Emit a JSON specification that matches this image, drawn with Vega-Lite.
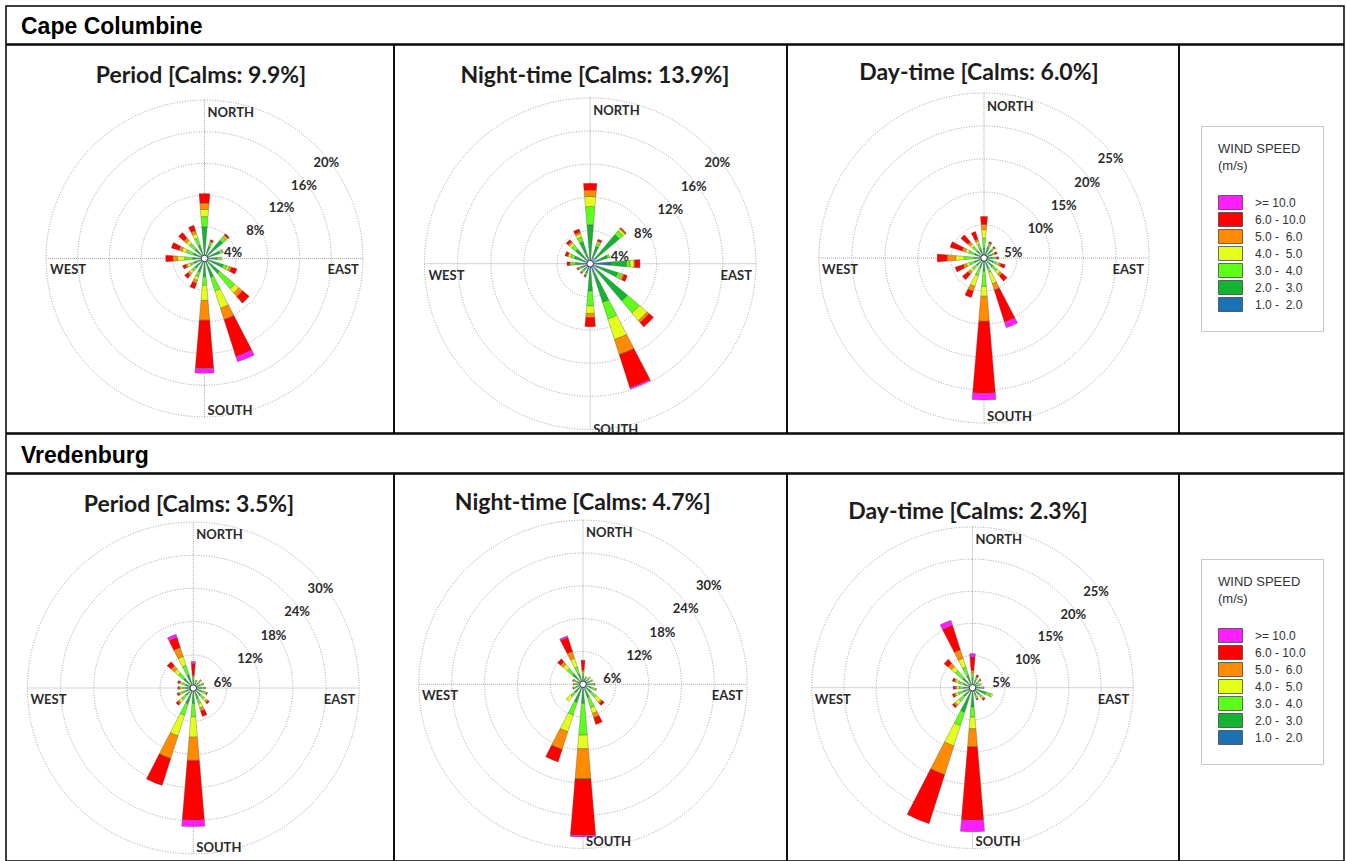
{
  "$schema": "https://vega.github.io/schema/vega-lite/v6.json",
  "padding": {"left": 5, "top": 5, "right": 3, "bottom": 3},
  "background": "white",
  "spacing": -1.5,
  "config": {
    "view": {"stroke": "#000", "strokeWidth": 1.5},
    "font": "Lato",
    "text": {"font": "Lato"}
  },
  "resolve": {"scale": {"color": "independent", "theta": "independent", "radius": "independent"}, "legend": {"color": "independent"}},
  "datasets": {
    "wind": [
      {"rose":1,"dir":0,"c1":0.5,"c2":3.5,"c3":1.3,"c4":0.9,"c5":0.8,"c6":1.2,"c7":0},
      {"rose":1,"dir":22.5,"c1":0.4,"c2":1.2,"c3":0.4,"c4":0.2,"c5":0.1,"c6":0.2,"c7":0},
      {"rose":1,"dir":45,"c1":0.4,"c2":2.6,"c3":0.6,"c4":0.2,"c5":0.1,"c6":0.2,"c7":0},
      {"rose":1,"dir":67.5,"c1":0.5,"c2":1.5,"c3":0.4,"c4":0.1,"c5":0,"c6":0,"c7":0},
      {"rose":1,"dir":90,"c1":0.5,"c2":1.1,"c3":0.4,"c4":0.2,"c5":0,"c6":0,"c7":0},
      {"rose":1,"dir":112.5,"c1":0.4,"c2":2.1,"c3":0.5,"c4":0.3,"c5":0.3,"c6":0.7,"c7":0},
      {"rose":1,"dir":135,"c1":0.4,"c2":2.1,"c3":2.5,"c4":0.7,"c5":0.6,"c6":1.1,"c7":0},
      {"rose":1,"dir":157.5,"c1":0.4,"c2":2.1,"c3":1.8,"c4":2.3,"c5":1.5,"c6":4.9,"c7":0.7},
      {"rose":1,"dir":180,"c1":0.4,"c2":1.9,"c3":1.1,"c4":1.9,"c5":2.5,"c6":6.1,"c7":0.6},
      {"rose":1,"dir":202.5,"c1":0.4,"c2":1.4,"c3":0.6,"c4":0.5,"c5":0.4,"c6":0.7,"c7":0},
      {"rose":1,"dir":225,"c1":0.4,"c2":1.2,"c3":0.5,"c4":0.4,"c5":0.3,"c6":0.5,"c7":0},
      {"rose":1,"dir":247.5,"c1":0.4,"c2":1.0,"c3":0.5,"c4":0.4,"c5":0.2,"c6":0.4,"c7":0},
      {"rose":1,"dir":270,"c1":0.4,"c2":1.1,"c3":1.0,"c4":0.9,"c5":0.6,"c6":0.9,"c7":0},
      {"rose":1,"dir":292.5,"c1":0.4,"c2":1.1,"c3":0.9,"c4":0.6,"c5":0.4,"c6":1.0,"c7":0},
      {"rose":1,"dir":315,"c1":0.4,"c2":1.2,"c3":0.9,"c4":0.5,"c5":0.4,"c6":0.9,"c7":0},
      {"rose":1,"dir":337.5,"c1":0.4,"c2":1.4,"c3":0.9,"c4":0.6,"c5":0.4,"c6":0.7,"c7":0},

      {"rose":2,"dir":0,"c1":0.8,"c2":3.9,"c3":2.2,"c4":1.2,"c5":0.8,"c6":0.8,"c7":0},
      {"rose":2,"dir":22.5,"c1":0.8,"c2":1.4,"c3":0.4,"c4":0.2,"c5":0.1,"c6":0.2,"c7":0},
      {"rose":2,"dir":45,"c1":1.0,"c2":3.6,"c3":0.6,"c4":0.3,"c5":0.1,"c6":0.1,"c7":0},
      {"rose":2,"dir":67.5,"c1":1.0,"c2":1.2,"c3":0.3,"c4":0,"c5":0,"c6":0,"c7":0},
      {"rose":2,"dir":90,"c1":2.4,"c2":2.0,"c3":0.4,"c4":0.5,"c5":0.1,"c6":0.6,"c7":0},
      {"rose":2,"dir":112.5,"c1":1.0,"c2":2.5,"c3":0.4,"c4":0.2,"c5":0.2,"c6":0.4,"c7":0},
      {"rose":2,"dir":135,"c1":1.0,"c2":4.9,"c3":1.9,"c4":1.2,"c5":0.3,"c6":0.7,"c7":0},
      {"rose":2,"dir":157.5,"c1":1.0,"c2":3.9,"c3":2.1,"c4":2.6,"c5":1.9,"c6":4.2,"c7":0.2},
      {"rose":2,"dir":180,"c1":0.8,"c2":2.5,"c3":1.8,"c4":0.9,"c5":0.5,"c6":1.1,"c7":0},
      {"rose":2,"dir":202.5,"c1":0.8,"c2":0.4,"c3":0.2,"c4":0.1,"c5":0.1,"c6":0.1,"c7":0},
      {"rose":2,"dir":225,"c1":0.8,"c2":0.3,"c3":0.2,"c4":0.1,"c5":0.1,"c6":0.1,"c7":0},
      {"rose":2,"dir":247.5,"c1":0.8,"c2":0.4,"c3":0.2,"c4":0.1,"c5":0.1,"c6":0.1,"c7":0},
      {"rose":2,"dir":270,"c1":0.8,"c2":1.0,"c3":0.4,"c4":0.2,"c5":0.1,"c6":0.3,"c7":0},
      {"rose":2,"dir":292.5,"c1":0.8,"c2":1.2,"c3":0.5,"c4":0.3,"c5":0.1,"c6":0.3,"c7":0},
      {"rose":2,"dir":315,"c1":0.8,"c2":1.5,"c3":0.6,"c4":0.4,"c5":0.2,"c6":0.3,"c7":0},
      {"rose":2,"dir":337.5,"c1":0.8,"c2":2.0,"c3":0.6,"c4":0.4,"c5":0.2,"c6":0.4,"c7":0},

      {"rose":3,"dir":0,"c1":0.5,"c2":1.0,"c3":1.5,"c4":1.3,"c5":0.8,"c6":1.2,"c7":0},
      {"rose":3,"dir":22.5,"c1":0.5,"c2":1.2,"c3":0.4,"c4":0.2,"c5":0.1,"c6":0.2,"c7":0},
      {"rose":3,"dir":45,"c1":0.5,"c2":1.1,"c3":0.3,"c4":0.2,"c5":0,"c6":0.2,"c7":0},
      {"rose":3,"dir":67.5,"c1":0.5,"c2":0.7,"c3":0.3,"c4":0.2,"c5":0.1,"c6":0.3,"c7":0},
      {"rose":3,"dir":90,"c1":0.5,"c2":0.8,"c3":0.4,"c4":0.2,"c5":0,"c6":0.3,"c7":0},
      {"rose":3,"dir":112.5,"c1":0.5,"c2":1.0,"c3":0.5,"c4":0.4,"c5":0.3,"c6":0.7,"c7":0},
      {"rose":3,"dir":135,"c1":0.5,"c2":1.3,"c3":0.8,"c4":0.6,"c5":0.4,"c6":1.0,"c7":0},
      {"rose":3,"dir":157.5,"c1":0.5,"c2":1.1,"c3":0.7,"c4":1.8,"c5":1.0,"c6":5.1,"c7":0.9},
      {"rose":3,"dir":180,"c1":0.5,"c2":1.5,"c3":2.3,"c4":1.5,"c5":3.8,"c6":10.9,"c7":1.0},
      {"rose":3,"dir":202.5,"c1":0.5,"c2":1.1,"c3":1.2,"c4":1.7,"c5":0.8,"c6":1.0,"c7":0},
      {"rose":3,"dir":225,"c1":0.5,"c2":1.0,"c3":0.8,"c4":0.5,"c5":0.4,"c6":1.1,"c7":0},
      {"rose":3,"dir":247.5,"c1":0.5,"c2":1.0,"c3":0.8,"c4":0.5,"c5":0.5,"c6":1.3,"c7":0},
      {"rose":3,"dir":270,"c1":0.5,"c2":1.0,"c3":1.5,"c4":1.3,"c5":1.3,"c6":1.5,"c7":0},
      {"rose":3,"dir":292.5,"c1":0.5,"c2":1.0,"c3":0.9,"c4":0.6,"c5":0.5,"c6":1.9,"c7":0},
      {"rose":3,"dir":315,"c1":0.5,"c2":1.0,"c3":0.8,"c4":0.5,"c5":0.4,"c6":1.4,"c7":0},
      {"rose":3,"dir":337.5,"c1":0.5,"c2":1.0,"c3":0.7,"c4":0.5,"c5":0.3,"c6":1.2,"c7":0},

      {"rose":4,"dir":0,"c1":0.5,"c2":1.0,"c3":0.5,"c4":0.2,"c5":0.1,"c6":2.1,"c7":0.4},
      {"rose":4,"dir":22.5,"c1":0.5,"c2":0.5,"c3":0.3,"c4":0.1,"c5":0.1,"c6":0,"c7":0},
      {"rose":4,"dir":45,"c1":0.5,"c2":0.8,"c3":0.4,"c4":0.2,"c5":0.1,"c6":0,"c7":0},
      {"rose":4,"dir":67.5,"c1":0.5,"c2":0.8,"c3":0.4,"c4":0.2,"c5":0.1,"c6":0,"c7":0},
      {"rose":4,"dir":90,"c1":0.5,"c2":1.0,"c3":0.4,"c4":0.2,"c5":0.1,"c6":0,"c7":0},
      {"rose":4,"dir":112.5,"c1":0.5,"c2":1.1,"c3":0.6,"c4":0.3,"c5":0.1,"c6":0.1,"c7":0},
      {"rose":4,"dir":135,"c1":0.5,"c2":1.3,"c3":0.8,"c4":0.6,"c5":0.3,"c6":0.3,"c7":0},
      {"rose":4,"dir":157.5,"c1":0.5,"c2":1.5,"c3":1.0,"c4":0.8,"c5":0.6,"c6":1.0,"c7":0},
      {"rose":4,"dir":180,"c1":0.5,"c2":2.3,"c3":2.4,"c4":3.7,"c5":4.2,"c6":10.8,"c7":1.2},
      {"rose":4,"dir":202.5,"c1":0.5,"c2":2.5,"c3":2.2,"c4":3.9,"c5":4.3,"c6":5.1,"c7":0},
      {"rose":4,"dir":225,"c1":0.5,"c2":1.3,"c3":1.0,"c4":0.6,"c5":0.3,"c6":0.4,"c7":0},
      {"rose":4,"dir":247.5,"c1":0.5,"c2":1.0,"c3":0.7,"c4":0.4,"c5":0.2,"c6":0.3,"c7":0},
      {"rose":4,"dir":270,"c1":0.5,"c2":0.9,"c3":0.6,"c4":0.4,"c5":0.2,"c6":0.2,"c7":0},
      {"rose":4,"dir":292.5,"c1":0.5,"c2":1.0,"c3":0.6,"c4":0.4,"c5":0.2,"c6":0.3,"c7":0},
      {"rose":4,"dir":315,"c1":0.5,"c2":1.8,"c3":1.2,"c4":1.0,"c5":0.8,"c6":0.9,"c7":0},
      {"rose":4,"dir":337.5,"c1":0.5,"c2":2.0,"c3":1.8,"c4":1.7,"c5":1.7,"c6":1.9,"c7":0.6},

      {"rose":5,"dir":0,"c1":0.5,"c2":1.0,"c3":0.5,"c4":0.3,"c5":0.3,"c6":1.8,"c7":0},
      {"rose":5,"dir":22.5,"c1":0.5,"c2":0.5,"c3":0.3,"c4":0.2,"c5":0,"c6":0,"c7":0},
      {"rose":5,"dir":45,"c1":0.5,"c2":0.7,"c3":0.4,"c4":0.2,"c5":0,"c6":0,"c7":0},
      {"rose":5,"dir":67.5,"c1":0.5,"c2":0.8,"c3":0.4,"c4":0.2,"c5":0,"c6":0,"c7":0},
      {"rose":5,"dir":90,"c1":0.5,"c2":0.9,"c3":0.5,"c4":0.2,"c5":0.1,"c6":0,"c7":0},
      {"rose":5,"dir":112.5,"c1":0.5,"c2":1.1,"c3":0.6,"c4":0.3,"c5":0.1,"c6":0,"c7":0},
      {"rose":5,"dir":135,"c1":0.5,"c2":1.5,"c3":1.2,"c4":1.1,"c5":0.3,"c6":0.5,"c7":0},
      {"rose":5,"dir":157.5,"c1":0.5,"c2":2.0,"c3":2.0,"c4":1.1,"c5":0.8,"c6":1.3,"c7":0},
      {"rose":5,"dir":180,"c1":0.5,"c2":3.0,"c3":5.8,"c4":2.5,"c5":5.5,"c6":10.3,"c7":0.3},
      {"rose":5,"dir":202.5,"c1":0.5,"c2":3.0,"c3":2.4,"c4":3.2,"c5":3.4,"c6":2.4,"c7":0},
      {"rose":5,"dir":225,"c1":0.5,"c2":1.5,"c3":1.0,"c4":1.1,"c5":0,"c6":0,"c7":0},
      {"rose":5,"dir":247.5,"c1":0.5,"c2":0.7,"c3":0.4,"c4":0.2,"c5":0.1,"c6":0.1,"c7":0},
      {"rose":5,"dir":270,"c1":0.5,"c2":0.6,"c3":0.4,"c4":0.2,"c5":0.1,"c6":0,"c7":0},
      {"rose":5,"dir":292.5,"c1":0.5,"c2":0.7,"c3":0.4,"c4":0.2,"c5":0.1,"c6":0.1,"c7":0},
      {"rose":5,"dir":315,"c1":0.5,"c2":2.0,"c3":1.3,"c4":1.0,"c5":0.6,"c6":0.7,"c7":0},
      {"rose":5,"dir":337.5,"c1":0.5,"c2":1.5,"c3":1.3,"c4":1.7,"c5":1.3,"c6":2.7,"c7":0.3},

      {"rose":6,"dir":0,"c1":0.5,"c2":1.0,"c3":0.5,"c4":0.3,"c5":0.4,"c6":2.1,"c7":0.5},
      {"rose":6,"dir":22.5,"c1":0.5,"c2":0.7,"c3":0.3,"c4":0.2,"c5":0.1,"c6":0.3,"c7":0},
      {"rose":6,"dir":45,"c1":0.5,"c2":0.6,"c3":0.3,"c4":0.2,"c5":0.1,"c6":0.1,"c7":0},
      {"rose":6,"dir":67.5,"c1":0.5,"c2":0.5,"c3":0.3,"c4":0.2,"c5":0,"c6":0,"c7":0},
      {"rose":6,"dir":90,"c1":0.5,"c2":0.7,"c3":0.3,"c4":0.2,"c5":0.1,"c6":0,"c7":0},
      {"rose":6,"dir":112.5,"c1":0.5,"c2":1.7,"c3":0.8,"c4":0.3,"c5":0,"c6":0,"c7":0},
      {"rose":6,"dir":135,"c1":0.5,"c2":0.9,"c3":0.5,"c4":0.3,"c5":0.2,"c6":0.2,"c7":0},
      {"rose":6,"dir":157.5,"c1":0.5,"c2":0.7,"c3":0.4,"c4":0.2,"c5":0.1,"c6":0.1,"c7":0},
      {"rose":6,"dir":180,"c1":0.5,"c2":2.5,"c3":1.6,"c4":1.8,"c5":2.8,"c6":11.4,"c7":1.8},
      {"rose":6,"dir":202.5,"c1":0.5,"c2":3.5,"c3":2.2,"c4":3.3,"c5":4.7,"c6":8.0,"c7":0},
      {"rose":6,"dir":225,"c1":0.5,"c2":1.3,"c3":1.0,"c4":0.7,"c5":0.3,"c6":0.3,"c7":0},
      {"rose":6,"dir":247.5,"c1":0.5,"c2":1.0,"c3":0.8,"c4":0.5,"c5":0.2,"c6":0.3,"c7":0},
      {"rose":6,"dir":270,"c1":0.5,"c2":0.9,"c3":0.7,"c4":0.4,"c5":0.2,"c6":0.3,"c7":0},
      {"rose":6,"dir":292.5,"c1":0.5,"c2":1.0,"c3":0.8,"c4":0.5,"c5":0.2,"c6":0.3,"c7":0},
      {"rose":6,"dir":315,"c1":0.5,"c2":1.5,"c3":1.5,"c4":0.8,"c5":0.7,"c6":0.8,"c7":0},
      {"rose":6,"dir":337.5,"c1":0.5,"c2":1.5,"c3":1.4,"c4":1.4,"c5":1.4,"c6":4.0,"c7":0.8}
    ]
  },
  "vconcat": [
    {
      "width": 1338, "height": 38,
      "data": {"values": [{"t": "Cape Columbine"}]},
      "mark": {"type": "text", "align": "left", "baseline": "alphabetic", "dx": 15, "font": "Liberation Sans", "fontSize": 23, "fontWeight": "bold", "color": "#000"},
      "encoding": {
        "text": {"field": "t"},
        "x": {"datum": 0, "type": "quantitative", "scale": {"domain": [0, 1], "nice": false, "zero": false}, "axis": null},
        "y": {"datum": 0.26, "type": "quantitative", "scale": {"domain": [0, 1], "nice": false, "zero": false}, "axis": null}
      }
    },
    {
      "hconcat": [
        {
          "width": 388, "height": 388,
          "encoding": {
            "x": {"datum": 0, "type": "quantitative", "scale": {"domain": [-25.063, 23.927], "nice": false, "zero": false}, "axis": null},
            "y": {"datum": 0, "type": "quantitative", "scale": {"domain": [-22.033, 26.957], "nice": false, "zero": false}, "axis": null}
          },
          "layer": [
            {"data": {"values": [{"r": 4}, {"r": 8}, {"r": 12}, {"r": 16}, {"r": 20}]},
             "mark": {"type": "arc", "filled": false, "stroke": "#a0a0a0", "strokeWidth": 1, "strokeDash": [1, 1.6], "theta": 0, "theta2": 6.2832},
             "encoding": {"radius": {"field": "r", "type": "quantitative", "stack": null, "scale": {"type": "linear", "domain": [0, 20], "range": [0, 158.4], "zero": true, "nice": false}}}},
            {"data": {"values": [{}]}, "mark": {"type": "rule", "stroke": "#a8a8a8", "strokeWidth": 1, "strokeDash": [1, 1]}, "encoding": {"x": {"datum": -20}, "x2": {"datum": 20}}},
            {"data": {"values": [{}]}, "mark": {"type": "rule", "stroke": "#a8a8a8", "strokeWidth": 1, "strokeDash": [1, 1]}, "encoding": {"y": {"datum": -20}, "y2": {"datum": 20}}},
            {"data": {"name": "wind"},
             "transform": [
               {"filter": "datum.rose == 1"},
               {"fold": ["c1", "c2", "c3", "c4", "c5", "c6", "c7"], "as": ["cls", "freq"]},
               {"filter": "datum.freq > 0"},
               {"stack": "freq", "groupby": ["dir"], "sort": [{"field": "cls", "order": "ascending"}], "as": ["r0", "r1"]},
               {"calculate": "datum.dir - 4.8", "as": "a0"},
               {"calculate": "datum.dir + 4.8", "as": "a1"}
             ],
             "mark": {"type": "arc", "stroke": "#4a4a4a", "strokeWidth": 0.35},
             "encoding": {
               "theta": {"field": "a0", "type": "quantitative", "stack": null, "scale": {"domain": [0, 360], "range": [0, 6.2832], "zero": false, "nice": false}},
               "theta2": {"field": "a1"},
               "radius": {"field": "r0", "type": "quantitative", "stack": null},
               "radius2": {"field": "r1"},
               "color": {"field": "cls", "type": "nominal", "legend": null, "scale": {"domain": ["c7", "c6", "c5", "c4", "c3", "c2", "c1"], "range": ["#ff1eff", "#ff0000", "#ff8c00", "#e4ff1a", "#5dff1a", "#14b432", "#1a72b4"]}}
             }},
            {"data": {"values": [{}]}, "mark": {"type": "point", "filled": true, "fill": "white", "stroke": "#3a3a5a", "strokeWidth": 1, "size": 42, "opacity": 1}, "encoding": {}},
            {"data": {"values": [{}]}, "mark": {"type": "text", "text": "NORTH", "align": "left", "baseline": "middle", "dx": 3, "dy": 13, "fontSize": 13, "fontWeight": "bold", "color": "#2b2b2b"}, "encoding": {"y": {"datum": 20}}},
            {"data": {"values": [{}]}, "mark": {"type": "text", "text": "SOUTH", "align": "left", "baseline": "middle", "dx": 3, "dy": -6, "fontSize": 13, "fontWeight": "bold", "color": "#2b2b2b"}, "encoding": {"y": {"datum": -20}}},
            {"data": {"values": [{}]}, "mark": {"type": "text", "text": "WEST", "align": "left", "baseline": "middle", "dx": 4, "dy": 12, "fontSize": 13, "fontWeight": "bold", "color": "#2b2b2b"}, "encoding": {"x": {"datum": -20}}},
            {"data": {"values": [{}]}, "mark": {"type": "text", "text": "EAST", "align": "right", "baseline": "middle", "dx": -4, "dy": 12, "fontSize": 13, "fontWeight": "bold", "color": "#2b2b2b"}, "encoding": {"x": {"datum": 20}}},
            {"data": {"values": [{"r": 4, "lab": "4%"}, {"r": 8, "lab": "8%"}, {"r": 12, "lab": "12%"}, {"r": 16, "lab": "16%"}, {"r": 20, "lab": "20%"}]},
             "mark": {"type": "text", "align": "left", "baseline": "middle", "dx": -3, "dy": 17, "fontSize": 13, "fontWeight": "bold", "color": "#2b2b2b"},
             "encoding": {"theta": {"datum": 45, "type": "quantitative", "stack": null}, "radius": {"field": "r", "type": "quantitative", "stack": null}, "text": {"field": "lab"}}},
            {"data": {"values": [{}]}, "mark": {"type": "text", "text": "Period [Calms: 9.9%]", "align": "center", "baseline": "middle", "fontSize": 23, "fontWeight": "bold", "color": "#1c1c1c"}, "encoding": {"x": {"datum": -0.44}, "y": {"datum": 23.04}}}
          ]
        },
        {
          "width": 393, "height": 388,
          "encoding": {
            "x": {"datum": 0, "type": "quantitative", "scale": {"domain": [-23.667, 23.739], "nice": false, "zero": false}, "axis": null},
            "y": {"datum": 0, "type": "quantitative", "scale": {"domain": [-20.422, 26.381], "nice": false, "zero": false}, "axis": null}
          },
          "layer": [
            {"data": {"values": [{"r": 4}, {"r": 8}, {"r": 12}, {"r": 16}, {"r": 20}]},
             "mark": {"type": "arc", "filled": false, "stroke": "#a0a0a0", "strokeWidth": 1, "strokeDash": [1, 1.6], "theta": 0, "theta2": 6.2832},
             "encoding": {"radius": {"field": "r", "type": "quantitative", "stack": null, "scale": {"type": "linear", "domain": [0, 20], "range": [0, 165.8], "zero": true, "nice": false}}}},
            {"data": {"values": [{}]}, "mark": {"type": "rule", "stroke": "#a8a8a8", "strokeWidth": 1, "strokeDash": [1, 1]}, "encoding": {"x": {"datum": -20}, "x2": {"datum": 20}}},
            {"data": {"values": [{}]}, "mark": {"type": "rule", "stroke": "#a8a8a8", "strokeWidth": 1, "strokeDash": [1, 1]}, "encoding": {"y": {"datum": -20}, "y2": {"datum": 20}}},
            {"data": {"name": "wind"},
             "transform": [
               {"filter": "datum.rose == 2"},
               {"fold": ["c1", "c2", "c3", "c4", "c5", "c6", "c7"], "as": ["cls", "freq"]},
               {"filter": "datum.freq > 0"},
               {"stack": "freq", "groupby": ["dir"], "sort": [{"field": "cls", "order": "ascending"}], "as": ["r0", "r1"]},
               {"calculate": "datum.dir - 4.8", "as": "a0"},
               {"calculate": "datum.dir + 4.8", "as": "a1"}
             ],
             "mark": {"type": "arc", "stroke": "#4a4a4a", "strokeWidth": 0.35},
             "encoding": {
               "theta": {"field": "a0", "type": "quantitative", "stack": null, "scale": {"domain": [0, 360], "range": [0, 6.2832], "zero": false, "nice": false}},
               "theta2": {"field": "a1"},
               "radius": {"field": "r0", "type": "quantitative", "stack": null},
               "radius2": {"field": "r1"},
               "color": {"field": "cls", "type": "nominal", "legend": null, "scale": {"domain": ["c7", "c6", "c5", "c4", "c3", "c2", "c1"], "range": ["#ff1eff", "#ff0000", "#ff8c00", "#e4ff1a", "#5dff1a", "#14b432", "#1a72b4"]}}
             }},
            {"data": {"values": [{}]}, "mark": {"type": "point", "filled": true, "fill": "white", "stroke": "#3a3a5a", "strokeWidth": 1, "size": 42, "opacity": 1}, "encoding": {}},
            {"data": {"values": [{}]}, "mark": {"type": "text", "text": "NORTH", "align": "left", "baseline": "middle", "dx": 3, "dy": 13, "fontSize": 13, "fontWeight": "bold", "color": "#2b2b2b"}, "encoding": {"y": {"datum": 20}}},
            {"data": {"values": [{}]}, "mark": {"type": "text", "text": "SOUTH", "align": "left", "baseline": "middle", "dx": 3, "dy": 0, "fontSize": 13, "fontWeight": "bold", "color": "#2b2b2b", "clip": true}, "encoding": {"y": {"datum": -20}}},
            {"data": {"values": [{}]}, "mark": {"type": "text", "text": "WEST", "align": "left", "baseline": "middle", "dx": 4, "dy": 12, "fontSize": 13, "fontWeight": "bold", "color": "#2b2b2b"}, "encoding": {"x": {"datum": -20}}},
            {"data": {"values": [{}]}, "mark": {"type": "text", "text": "EAST", "align": "right", "baseline": "middle", "dx": -4, "dy": 12, "fontSize": 13, "fontWeight": "bold", "color": "#2b2b2b"}, "encoding": {"x": {"datum": 20}}},
            {"data": {"values": [{"r": 4, "lab": "4%"}, {"r": 8, "lab": "8%"}, {"r": 12, "lab": "12%"}, {"r": 16, "lab": "16%"}, {"r": 20, "lab": "20%"}]},
             "mark": {"type": "text", "align": "left", "baseline": "middle", "dx": -3, "dy": 17, "fontSize": 13, "fontWeight": "bold", "color": "#2b2b2b"},
             "encoding": {"theta": {"datum": 45, "type": "quantitative", "stack": null}, "radius": {"field": "r", "type": "quantitative", "stack": null}, "text": {"field": "lab"}}},
            {"data": {"values": [{}]}, "mark": {"type": "text", "text": "Night-time [Calms: 13.9%]", "align": "center", "baseline": "middle", "fontSize": 23, "fontWeight": "bold", "color": "#1c1c1c"}, "encoding": {"x": {"datum": 0.58}, "y": {"datum": 22.70}}}
          ]
        },
        {
          "width": 392, "height": 388,
          "encoding": {
            "x": {"datum": 0, "type": "quantitative", "scale": {"domain": [-29.848, 29.545], "nice": false, "zero": false}, "axis": null},
            "y": {"datum": 0, "type": "quantitative", "scale": {"domain": [-26.515, 32.273], "nice": false, "zero": false}, "axis": null}
          },
          "layer": [
            {"data": {"values": [{"r": 5}, {"r": 10}, {"r": 15}, {"r": 20}, {"r": 25}]},
             "mark": {"type": "arc", "filled": false, "stroke": "#a0a0a0", "strokeWidth": 1, "strokeDash": [1, 1.6], "theta": 0, "theta2": 6.2832},
             "encoding": {"radius": {"field": "r", "type": "quantitative", "stack": null, "scale": {"type": "linear", "domain": [0, 25], "range": [0, 165], "zero": true, "nice": false}}}},
            {"data": {"values": [{}]}, "mark": {"type": "rule", "stroke": "#a8a8a8", "strokeWidth": 1, "strokeDash": [1, 1]}, "encoding": {"x": {"datum": -25}, "x2": {"datum": 25}}},
            {"data": {"values": [{}]}, "mark": {"type": "rule", "stroke": "#a8a8a8", "strokeWidth": 1, "strokeDash": [1, 1]}, "encoding": {"y": {"datum": -25}, "y2": {"datum": 25}}},
            {"data": {"name": "wind"},
             "transform": [
               {"filter": "datum.rose == 3"},
               {"fold": ["c1", "c2", "c3", "c4", "c5", "c6", "c7"], "as": ["cls", "freq"]},
               {"filter": "datum.freq > 0"},
               {"stack": "freq", "groupby": ["dir"], "sort": [{"field": "cls", "order": "ascending"}], "as": ["r0", "r1"]},
               {"calculate": "datum.dir - 4.8", "as": "a0"},
               {"calculate": "datum.dir + 4.8", "as": "a1"}
             ],
             "mark": {"type": "arc", "stroke": "#4a4a4a", "strokeWidth": 0.35},
             "encoding": {
               "theta": {"field": "a0", "type": "quantitative", "stack": null, "scale": {"domain": [0, 360], "range": [0, 6.2832], "zero": false, "nice": false}},
               "theta2": {"field": "a1"},
               "radius": {"field": "r0", "type": "quantitative", "stack": null},
               "radius2": {"field": "r1"},
               "color": {"field": "cls", "type": "nominal", "legend": null, "scale": {"domain": ["c7", "c6", "c5", "c4", "c3", "c2", "c1"], "range": ["#ff1eff", "#ff0000", "#ff8c00", "#e4ff1a", "#5dff1a", "#14b432", "#1a72b4"]}}
             }},
            {"data": {"values": [{}]}, "mark": {"type": "point", "filled": true, "fill": "white", "stroke": "#3a3a5a", "strokeWidth": 1, "size": 42, "opacity": 1}, "encoding": {}},
            {"data": {"values": [{}]}, "mark": {"type": "text", "text": "NORTH", "align": "left", "baseline": "middle", "dx": 3, "dy": 14, "fontSize": 13, "fontWeight": "bold", "color": "#2b2b2b"}, "encoding": {"y": {"datum": 25}}},
            {"data": {"values": [{}]}, "mark": {"type": "text", "text": "SOUTH", "align": "left", "baseline": "middle", "dx": 3, "dy": -6, "fontSize": 13, "fontWeight": "bold", "color": "#2b2b2b"}, "encoding": {"y": {"datum": -25}}},
            {"data": {"values": [{}]}, "mark": {"type": "text", "text": "WEST", "align": "left", "baseline": "middle", "dx": 3, "dy": 12, "fontSize": 13, "fontWeight": "bold", "color": "#2b2b2b"}, "encoding": {"x": {"datum": -25}}},
            {"data": {"values": [{}]}, "mark": {"type": "text", "text": "EAST", "align": "right", "baseline": "middle", "dx": -5, "dy": 12, "fontSize": 13, "fontWeight": "bold", "color": "#2b2b2b"}, "encoding": {"x": {"datum": 25}}},
            {"data": {"values": [{"r": 5, "lab": "5%"}, {"r": 10, "lab": "10%"}, {"r": 15, "lab": "15%"}, {"r": 20, "lab": "20%"}, {"r": 25, "lab": "25%"}]},
             "mark": {"type": "text", "align": "left", "baseline": "middle", "dx": -3, "dy": 18, "fontSize": 13, "fontWeight": "bold", "color": "#2b2b2b"},
             "encoding": {"theta": {"datum": 45, "type": "quantitative", "stack": null}, "radius": {"field": "r", "type": "quantitative", "stack": null}, "text": {"field": "lab"}}},
            {"data": {"values": [{}]}, "mark": {"type": "text", "text": "Day-time [Calms: 6.0%]", "align": "center", "baseline": "middle", "fontSize": 23, "fontWeight": "bold", "color": "#1c1c1c"}, "encoding": {"x": {"datum": -0.76}, "y": {"datum": 28.03}}}
          ]
        },
        {
          "width": 165, "height": 388,
          "data": {"values": [{"cls": "c7"}, {"cls": "c6"}, {"cls": "c5"}, {"cls": "c4"}, {"cls": "c3"}, {"cls": "c2"}, {"cls": "c1"}]},
          "mark": {"type": "point", "filled": true, "opacity": 0},
          "encoding": {
            "x": {"datum": 0.5, "type": "quantitative", "scale": {"domain": [0, 1], "nice": false, "zero": false}, "axis": null},
            "y": {"datum": 0.5, "type": "quantitative", "scale": {"domain": [0, 1], "nice": false, "zero": false}, "axis": null},
            "color": {"field": "cls", "type": "nominal",
              "scale": {"domain": ["c7", "c6", "c5", "c4", "c3", "c2", "c1"], "range": ["#ff1eff", "#ff0000", "#ff8c00", "#e4ff1a", "#5dff1a", "#14b432", "#1a72b4"]},
              "legend": {"orient": "none", "legendX": 22, "legendY": 81, "direction": "vertical",
                "title": ["WIND SPEED", "(m/s)"], "titleFont": "Liberation Sans", "titleFontSize": 13, "titleFontWeight": "normal", "titleColor": "#333", "titleLineHeight": 17, "titlePadding": 22,
                "labelFont": "Liberation Sans", "labelFontSize": 12, "labelColor": "#333", "labelOffset": 22,
                "labelExpr": "{c7: '>= 10.0', c6: '\u00a06.0\u00a0-\u00a010.0', c5: '\u00a05.0\u00a0-\u00a0\u00a06.0', c4: '\u00a04.0\u00a0-\u00a0\u00a05.0', c3: '\u00a03.0\u00a0-\u00a0\u00a04.0', c2: '\u00a02.0\u00a0-\u00a0\u00a03.0', c1: '\u00a01.0\u00a0-\u00a0\u00a02.0'}[datum.value]",
                "symbolType": "M-1,-1H2.43V1H-1Z", "symbolSize": 196, "symbolStrokeColor": "#444", "symbolStrokeWidth": 0.8, "symbolOpacity": 1,
                "rowPadding": -2, "padding": 17, "strokeColor": "#c8c8c8", "fillColor": "white", "cornerRadius": 0}}
          }
        }
      ],
      "spacing": 0,
      "bounds": "flush",
      "resolve": {"scale": {"color": "independent", "theta": "independent", "radius": "independent"}, "legend": {"color": "independent"}}
    },
    {
      "width": 1338, "height": 39,
      "data": {"values": [{"t": "Vredenburg"}]},
      "mark": {"type": "text", "align": "left", "baseline": "alphabetic", "dx": 15, "font": "Liberation Sans", "fontSize": 23, "fontWeight": "bold", "color": "#000"},
      "encoding": {
        "text": {"field": "t"},
        "x": {"datum": 0, "type": "quantitative", "scale": {"domain": [0, 1], "nice": false, "zero": false}, "axis": null},
        "y": {"datum": 0.264, "type": "quantitative", "scale": {"domain": [0, 1], "nice": false, "zero": false}, "axis": null}
      }
    },
    {
      "hconcat": [
        {
          "width": 388, "height": 387,
          "encoding": {
            "x": {"datum": 0, "type": "quantitative", "scale": {"domain": [-33.870, 36.293], "nice": false, "zero": false}, "axis": null},
            "y": {"datum": 0, "type": "quantitative", "scale": {"domain": [-31.284, 38.698], "nice": false, "zero": false}, "axis": null}
          },
          "layer": [
            {"data": {"values": [{"r": 6}, {"r": 12}, {"r": 18}, {"r": 24}, {"r": 30}]},
             "mark": {"type": "arc", "filled": false, "stroke": "#a0a0a0", "strokeWidth": 1, "strokeDash": [1, 1.6], "theta": 0, "theta2": 6.2832},
             "encoding": {"radius": {"field": "r", "type": "quantitative", "stack": null, "scale": {"type": "linear", "domain": [0, 30], "range": [0, 165.9], "zero": true, "nice": false}}}},
            {"data": {"values": [{}]}, "mark": {"type": "rule", "stroke": "#a8a8a8", "strokeWidth": 1, "strokeDash": [1, 1]}, "encoding": {"x": {"datum": -30}, "x2": {"datum": 30}}},
            {"data": {"values": [{}]}, "mark": {"type": "rule", "stroke": "#a8a8a8", "strokeWidth": 1, "strokeDash": [1, 1]}, "encoding": {"y": {"datum": -30}, "y2": {"datum": 30}}},
            {"data": {"name": "wind"},
             "transform": [
               {"filter": "datum.rose == 4"},
               {"fold": ["c1", "c2", "c3", "c4", "c5", "c6", "c7"], "as": ["cls", "freq"]},
               {"filter": "datum.freq > 0"},
               {"stack": "freq", "groupby": ["dir"], "sort": [{"field": "cls", "order": "ascending"}], "as": ["r0", "r1"]},
               {"calculate": "datum.dir - 4.8", "as": "a0"},
               {"calculate": "datum.dir + 4.8", "as": "a1"}
             ],
             "mark": {"type": "arc", "stroke": "#4a4a4a", "strokeWidth": 0.35},
             "encoding": {
               "theta": {"field": "a0", "type": "quantitative", "stack": null, "scale": {"domain": [0, 360], "range": [0, 6.2832], "zero": false, "nice": false}},
               "theta2": {"field": "a1"},
               "radius": {"field": "r0", "type": "quantitative", "stack": null},
               "radius2": {"field": "r1"},
               "color": {"field": "cls", "type": "nominal", "legend": null, "scale": {"domain": ["c7", "c6", "c5", "c4", "c3", "c2", "c1"], "range": ["#ff1eff", "#ff0000", "#ff8c00", "#e4ff1a", "#5dff1a", "#14b432", "#1a72b4"]}}
             }},
            {"data": {"values": [{}]}, "mark": {"type": "point", "filled": true, "fill": "white", "stroke": "#3a3a5a", "strokeWidth": 1, "size": 42, "opacity": 1}, "encoding": {}},
            {"data": {"values": [{}]}, "mark": {"type": "text", "text": "NORTH", "align": "left", "baseline": "middle", "dx": 3, "dy": 13, "fontSize": 13, "fontWeight": "bold", "color": "#2b2b2b"}, "encoding": {"y": {"datum": 30}}},
            {"data": {"values": [{}]}, "mark": {"type": "text", "text": "SOUTH", "align": "left", "baseline": "middle", "dx": 3, "dy": -6, "fontSize": 13, "fontWeight": "bold", "color": "#2b2b2b"}, "encoding": {"y": {"datum": -30}}},
            {"data": {"values": [{}]}, "mark": {"type": "text", "text": "WEST", "align": "left", "baseline": "middle", "dx": 3, "dy": 12, "fontSize": 13, "fontWeight": "bold", "color": "#2b2b2b"}, "encoding": {"x": {"datum": -30}}},
            {"data": {"values": [{}]}, "mark": {"type": "text", "text": "EAST", "align": "right", "baseline": "middle", "dx": -4, "dy": 12, "fontSize": 13, "fontWeight": "bold", "color": "#2b2b2b"}, "encoding": {"x": {"datum": 30}}},
            {"data": {"values": [{"r": 6, "lab": "6%"}, {"r": 12, "lab": "12%"}, {"r": 18, "lab": "18%"}, {"r": 24, "lab": "24%"}, {"r": 30, "lab": "30%"}]},
             "mark": {"type": "text", "align": "left", "baseline": "middle", "dx": -3, "dy": 18, "fontSize": 13, "fontWeight": "bold", "color": "#2b2b2b"},
             "encoding": {"theta": {"datum": 45, "type": "quantitative", "stack": null}, "radius": {"field": "r", "type": "quantitative", "stack": null}, "text": {"field": "lab"}}},
            {"data": {"values": [{}]}, "mark": {"type": "text", "text": "Period [Calms: 3.5%]", "align": "center", "baseline": "middle", "fontSize": 23, "fontWeight": "bold", "color": "#1c1c1c"}, "encoding": {"x": {"datum": -0.78}, "y": {"datum": 33.04}}}
          ]
        },
        {
          "width": 393, "height": 387,
          "encoding": {
            "x": {"datum": 0, "type": "quantitative", "scale": {"domain": [-34.552, 37.294], "nice": false, "zero": false}, "axis": null},
            "y": {"datum": 0, "type": "quantitative", "scale": {"domain": [-32.303, 38.446], "nice": false, "zero": false}, "axis": null}
          },
          "layer": [
            {"data": {"values": [{"r": 6}, {"r": 12}, {"r": 18}, {"r": 24}, {"r": 30}]},
             "mark": {"type": "arc", "filled": false, "stroke": "#a0a0a0", "strokeWidth": 1, "strokeDash": [1, 1.6], "theta": 0, "theta2": 6.2832},
             "encoding": {"radius": {"field": "r", "type": "quantitative", "stack": null, "scale": {"type": "linear", "domain": [0, 30], "range": [0, 164.1], "zero": true, "nice": false}}}},
            {"data": {"values": [{}]}, "mark": {"type": "rule", "stroke": "#a8a8a8", "strokeWidth": 1, "strokeDash": [1, 1]}, "encoding": {"x": {"datum": -30}, "x2": {"datum": 30}}},
            {"data": {"values": [{}]}, "mark": {"type": "rule", "stroke": "#a8a8a8", "strokeWidth": 1, "strokeDash": [1, 1]}, "encoding": {"y": {"datum": -30}, "y2": {"datum": 30}}},
            {"data": {"name": "wind"},
             "transform": [
               {"filter": "datum.rose == 5"},
               {"fold": ["c1", "c2", "c3", "c4", "c5", "c6", "c7"], "as": ["cls", "freq"]},
               {"filter": "datum.freq > 0"},
               {"stack": "freq", "groupby": ["dir"], "sort": [{"field": "cls", "order": "ascending"}], "as": ["r0", "r1"]},
               {"calculate": "datum.dir - 4.8", "as": "a0"},
               {"calculate": "datum.dir + 4.8", "as": "a1"}
             ],
             "mark": {"type": "arc", "stroke": "#4a4a4a", "strokeWidth": 0.35},
             "encoding": {
               "theta": {"field": "a0", "type": "quantitative", "stack": null, "scale": {"domain": [0, 360], "range": [0, 6.2832], "zero": false, "nice": false}},
               "theta2": {"field": "a1"},
               "radius": {"field": "r0", "type": "quantitative", "stack": null},
               "radius2": {"field": "r1"},
               "color": {"field": "cls", "type": "nominal", "legend": null, "scale": {"domain": ["c7", "c6", "c5", "c4", "c3", "c2", "c1"], "range": ["#ff1eff", "#ff0000", "#ff8c00", "#e4ff1a", "#5dff1a", "#14b432", "#1a72b4"]}}
             }},
            {"data": {"values": [{}]}, "mark": {"type": "point", "filled": true, "fill": "white", "stroke": "#3a3a5a", "strokeWidth": 1, "size": 42, "opacity": 1}, "encoding": {}},
            {"data": {"values": [{}]}, "mark": {"type": "text", "text": "NORTH", "align": "left", "baseline": "middle", "dx": 3, "dy": 13, "fontSize": 13, "fontWeight": "bold", "color": "#2b2b2b"}, "encoding": {"y": {"datum": 30}}},
            {"data": {"values": [{}]}, "mark": {"type": "text", "text": "SOUTH", "align": "left", "baseline": "middle", "dx": 3, "dy": -6, "fontSize": 13, "fontWeight": "bold", "color": "#2b2b2b"}, "encoding": {"y": {"datum": -30}}},
            {"data": {"values": [{}]}, "mark": {"type": "text", "text": "WEST", "align": "left", "baseline": "middle", "dx": 3, "dy": 12, "fontSize": 13, "fontWeight": "bold", "color": "#2b2b2b"}, "encoding": {"x": {"datum": -30}}},
            {"data": {"values": [{}]}, "mark": {"type": "text", "text": "EAST", "align": "right", "baseline": "middle", "dx": -4, "dy": 12, "fontSize": 13, "fontWeight": "bold", "color": "#2b2b2b"}, "encoding": {"x": {"datum": 30}}},
            {"data": {"values": [{"r": 6, "lab": "6%"}, {"r": 12, "lab": "12%"}, {"r": 18, "lab": "18%"}, {"r": 24, "lab": "24%"}, {"r": 30, "lab": "30%"}]},
             "mark": {"type": "text", "align": "left", "baseline": "middle", "dx": -3, "dy": 18, "fontSize": 13, "fontWeight": "bold", "color": "#2b2b2b"},
             "encoding": {"theta": {"datum": 45, "type": "quantitative", "stack": null}, "radius": {"field": "r", "type": "quantitative", "stack": null}, "text": {"field": "lab"}}},
            {"data": {"values": [{}]}, "mark": {"type": "text", "text": "Night-time [Calms: 4.7%]", "align": "center", "baseline": "middle", "fontSize": 23, "fontWeight": "bold", "color": "#1c1c1c"}, "encoding": {"x": {"datum": -0.05}, "y": {"datum": 33.20}}}
          ]
        },
        {
          "width": 392, "height": 387,
          "encoding": {
            "x": {"datum": 0, "type": "quantitative", "scale": {"domain": [-28.849, 32.115], "nice": false, "zero": false}, "axis": null},
            "y": {"datum": 0, "type": "quantitative", "scale": {"domain": [-26.952, 33.235], "nice": false, "zero": false}, "axis": null}
          },
          "layer": [
            {"data": {"values": [{"r": 5}, {"r": 10}, {"r": 15}, {"r": 20}, {"r": 25}]},
             "mark": {"type": "arc", "filled": false, "stroke": "#a0a0a0", "strokeWidth": 1, "strokeDash": [1, 1.6], "theta": 0, "theta2": 6.2832},
             "encoding": {"radius": {"field": "r", "type": "quantitative", "stack": null, "scale": {"type": "linear", "domain": [0, 25], "range": [0, 160.75], "zero": true, "nice": false}}}},
            {"data": {"values": [{}]}, "mark": {"type": "rule", "stroke": "#a8a8a8", "strokeWidth": 1, "strokeDash": [1, 1]}, "encoding": {"x": {"datum": -25}, "x2": {"datum": 25}}},
            {"data": {"values": [{}]}, "mark": {"type": "rule", "stroke": "#a8a8a8", "strokeWidth": 1, "strokeDash": [1, 1]}, "encoding": {"y": {"datum": -25}, "y2": {"datum": 25}}},
            {"data": {"name": "wind"},
             "transform": [
               {"filter": "datum.rose == 6"},
               {"fold": ["c1", "c2", "c3", "c4", "c5", "c6", "c7"], "as": ["cls", "freq"]},
               {"filter": "datum.freq > 0"},
               {"stack": "freq", "groupby": ["dir"], "sort": [{"field": "cls", "order": "ascending"}], "as": ["r0", "r1"]},
               {"calculate": "datum.dir - 4.8", "as": "a0"},
               {"calculate": "datum.dir + 4.8", "as": "a1"}
             ],
             "mark": {"type": "arc", "stroke": "#4a4a4a", "strokeWidth": 0.35},
             "encoding": {
               "theta": {"field": "a0", "type": "quantitative", "stack": null, "scale": {"domain": [0, 360], "range": [0, 6.2832], "zero": false, "nice": false}},
               "theta2": {"field": "a1"},
               "radius": {"field": "r0", "type": "quantitative", "stack": null},
               "radius2": {"field": "r1"},
               "color": {"field": "cls", "type": "nominal", "legend": null, "scale": {"domain": ["c7", "c6", "c5", "c4", "c3", "c2", "c1"], "range": ["#ff1eff", "#ff0000", "#ff8c00", "#e4ff1a", "#5dff1a", "#14b432", "#1a72b4"]}}
             }},
            {"data": {"values": [{}]}, "mark": {"type": "point", "filled": true, "fill": "white", "stroke": "#3a3a5a", "strokeWidth": 1, "size": 42, "opacity": 1}, "encoding": {}},
            {"data": {"values": [{}]}, "mark": {"type": "text", "text": "NORTH", "align": "left", "baseline": "middle", "dx": 3, "dy": 13, "fontSize": 13, "fontWeight": "bold", "color": "#2b2b2b"}, "encoding": {"y": {"datum": 25}}},
            {"data": {"values": [{}]}, "mark": {"type": "text", "text": "SOUTH", "align": "left", "baseline": "middle", "dx": 3, "dy": -6, "fontSize": 13, "fontWeight": "bold", "color": "#2b2b2b"}, "encoding": {"y": {"datum": -25}}},
            {"data": {"values": [{}]}, "mark": {"type": "text", "text": "WEST", "align": "left", "baseline": "middle", "dx": 3, "dy": 12, "fontSize": 13, "fontWeight": "bold", "color": "#2b2b2b"}, "encoding": {"x": {"datum": -25}}},
            {"data": {"values": [{}]}, "mark": {"type": "text", "text": "EAST", "align": "right", "baseline": "middle", "dx": -4, "dy": 12, "fontSize": 13, "fontWeight": "bold", "color": "#2b2b2b"}, "encoding": {"x": {"datum": 25}}},
            {"data": {"values": [{"r": 5, "lab": "5%"}, {"r": 10, "lab": "10%"}, {"r": 15, "lab": "15%"}, {"r": 20, "lab": "20%"}, {"r": 25, "lab": "25%"}]},
             "mark": {"type": "text", "align": "left", "baseline": "middle", "dx": -3, "dy": 18, "fontSize": 13, "fontWeight": "bold", "color": "#2b2b2b"},
             "encoding": {"theta": {"datum": 45, "type": "quantitative", "stack": null}, "radius": {"field": "r", "type": "quantitative", "stack": null}, "text": {"field": "lab"}}},
            {"data": {"values": [{}]}, "mark": {"type": "text", "text": "Day-time [Calms: 2.3%]", "align": "center", "baseline": "middle", "fontSize": 23, "fontWeight": "bold", "color": "#1c1c1c"}, "encoding": {"x": {"datum": -0.7}, "y": {"datum": 27.33}}}
          ]
        },
        {
          "width": 165, "height": 387,
          "data": {"values": [{"cls": "c7"}, {"cls": "c6"}, {"cls": "c5"}, {"cls": "c4"}, {"cls": "c3"}, {"cls": "c2"}, {"cls": "c1"}]},
          "mark": {"type": "point", "filled": true, "opacity": 0},
          "encoding": {
            "x": {"datum": 0.5, "type": "quantitative", "scale": {"domain": [0, 1], "nice": false, "zero": false}, "axis": null},
            "y": {"datum": 0.5, "type": "quantitative", "scale": {"domain": [0, 1], "nice": false, "zero": false}, "axis": null},
            "color": {"field": "cls", "type": "nominal",
              "scale": {"domain": ["c7", "c6", "c5", "c4", "c3", "c2", "c1"], "range": ["#ff1eff", "#ff0000", "#ff8c00", "#e4ff1a", "#5dff1a", "#14b432", "#1a72b4"]},
              "legend": {"orient": "none", "legendX": 22, "legendY": 85, "direction": "vertical",
                "title": ["WIND SPEED", "(m/s)"], "titleFont": "Liberation Sans", "titleFontSize": 13, "titleFontWeight": "normal", "titleColor": "#333", "titleLineHeight": 17, "titlePadding": 22,
                "labelFont": "Liberation Sans", "labelFontSize": 12, "labelColor": "#333", "labelOffset": 22,
                "labelExpr": "{c7: '>= 10.0', c6: '\u00a06.0\u00a0-\u00a010.0', c5: '\u00a05.0\u00a0-\u00a0\u00a06.0', c4: '\u00a04.0\u00a0-\u00a0\u00a05.0', c3: '\u00a03.0\u00a0-\u00a0\u00a04.0', c2: '\u00a02.0\u00a0-\u00a0\u00a03.0', c1: '\u00a01.0\u00a0-\u00a0\u00a02.0'}[datum.value]",
                "symbolType": "M-1,-1H2.43V1H-1Z", "symbolSize": 196, "symbolStrokeColor": "#444", "symbolStrokeWidth": 0.8, "symbolOpacity": 1,
                "rowPadding": -2, "padding": 17, "strokeColor": "#c8c8c8", "fillColor": "white", "cornerRadius": 0}}
          }
        }
      ],
      "spacing": 0,
      "bounds": "flush",
      "resolve": {"scale": {"color": "independent", "theta": "independent", "radius": "independent"}, "legend": {"color": "independent"}}
    }
  ]
}
